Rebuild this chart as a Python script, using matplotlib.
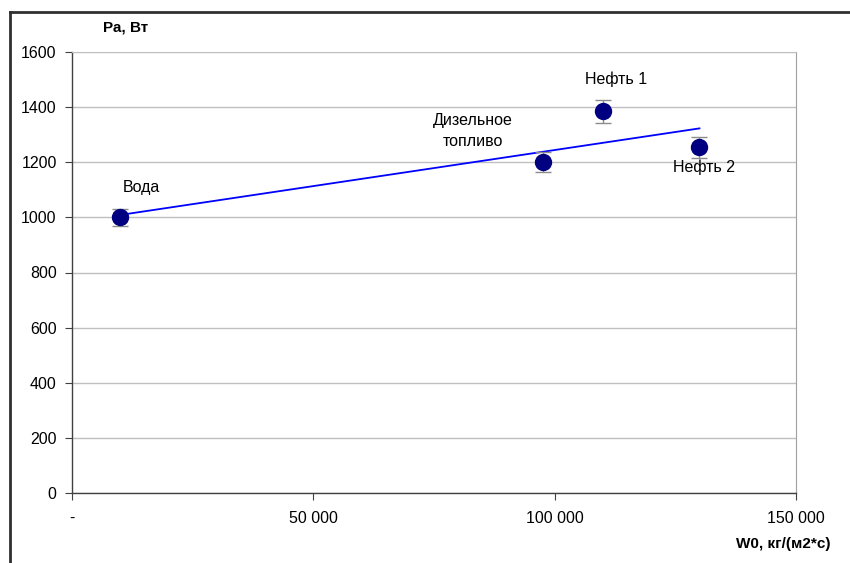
import numpy as np
import matplotlib
matplotlib.use("Agg")
import matplotlib.pyplot as plt
from matplotlib.ticker import FuncFormatter, MultipleLocator
from matplotlib.lines import Line2D

plt.rcParams['font.family'] = ['Liberation Sans', 'DejaVu Sans']
plt.rcParams['font.size'] = 11

#------------------------------------------------ Data ------------------------------------------------
names = ["Вода", "Дизельное\nтопливо", "Нефть 1", "Нефть 2"]
W0 = [10000, 97500, 110000, 130000]        # mass flux, kg/(m2*s)
Pa = [1000, 1200, 1385, 1255]              # power, W
Pa_err = [30, 36, 42, 38]                  # error bar half-width, W

# label positions for each point (data coords)
label_x = [14300, 83000, 112700, 131000]
label_y = [1110, 1313, 1502, 1183]

#------------------------------------------------ Figure ----------------------------------------------
fig = plt.figure(figsize=(8.5, 5.63), dpi=100)
ax = fig.add_axes([72/850, 1 - 493/563, 724/850, 441/563])

# grid lines
ax.set_axisbelow(True)
ax.yaxis.grid(True, color='#C0C0C0', linewidth=1)

# linear trend line over data range
k, b = np.polyfit(W0, Pa, 1)
xt = np.array([min(W0), max(W0)])
ax.plot(xt, k * xt + b, color='#0000FF', linewidth=1.3, zorder=3)

# points with error bars
ax.errorbar(W0, Pa, yerr=Pa_err, fmt='o', color='#000080', markersize=11.5,
            ecolor='#8C8C8C', elinewidth=1, capsize=6, capthick=1, zorder=4)

for i in range(len(names)):
    ax.text(label_x[i], label_y[i], names[i], ha='center', va='center',
            fontsize=11.5, linespacing=1.5, zorder=5)

ax.set_xlim(0, 150000)
ax.set_ylim(0, 1600)
ax.xaxis.set_major_locator(MultipleLocator(50000))
ax.yaxis.set_major_locator(MultipleLocator(200))

def fmt_x(v, pos):
    if v == 0:
        return "-"
    return "{:,.0f}".format(v).replace(",", " ")

ax.xaxis.set_major_formatter(FuncFormatter(fmt_x))

for s in ['left', 'bottom']:
    ax.spines[s].set_color('#404040')
    ax.spines[s].set_linewidth(1)
ax.spines['right'].set_color('#A0A0A0')
ax.spines['top'].set_color('#C0C0C0')
ax.tick_params(axis='both', direction='out', length=5, color='#404040', labelsize=11.5)
ax.tick_params(axis='x', pad=8)
ax.tick_params(axis='y', pad=6)

# axis titles
fig.text(126/850, 1 - 28/563, "Ра, Вт", fontsize=11, fontweight='bold', ha='center', va='center')
fig.text(830/850, 1 - 544/563, "W0, кг/(м2*с)", fontsize=11, fontweight='bold', ha='right', va='center')

# outer chart frame (top and left edges)
fig.add_artist(Line2D([10/850, 1], [1 - 12/563, 1 - 12/563], color='#303030', linewidth=2, transform=fig.transFigure))
fig.add_artist(Line2D([10/850, 10/850], [0, 1 - 12/563], color='#303030', linewidth=2, transform=fig.transFigure))

fig.savefig("out.png", dpi=100)
